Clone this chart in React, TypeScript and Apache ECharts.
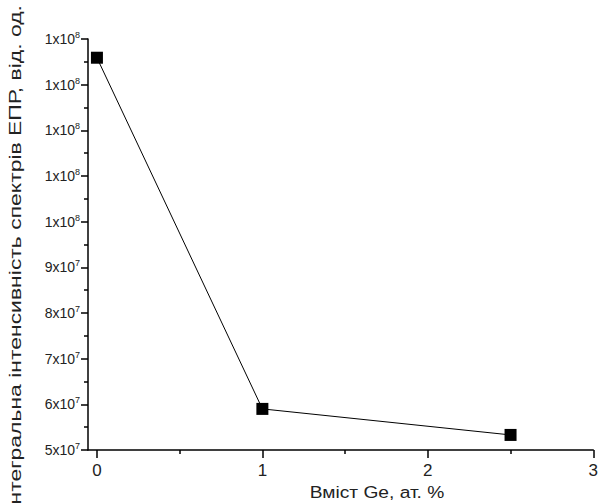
import React, { useEffect, useRef } from "react";
import * as echarts from "echarts";

const geContent = [0, 1, 2.5];
const eprIntensity = [1.359e8, 5.9e7, 5.33e7];
const xTickValues = [0, 1, 2, 3];
const xMinorTickValues = [0.5, 1.5, 2.5];
const yTickMantissa = ["5", "6", "7", "8", "9", "1", "1", "1", "1", "1"];
const yTickExponent = ["7", "7", "7", "7", "7", "8", "8", "8", "8", "8"];
const xAxisTitle = "Вміст Ge, ат. %";
const yAxisTitle = "Інтегральна інтенсивність спектрів ЕПР, від. од.";

const FONT = "'Liberation Sans', Arial, sans-serif";

export default function App() {
  const ref = useRef<HTMLDivElement>(null);
  useEffect(() => {
    document.body.style.margin = "0";
    const chart = echarts.init(ref.current!, null, { renderer: "svg" });
    const yMin = 5e7;
    const yStep = 1e7;
    chart.setOption({
      animation: false,
      backgroundColor: "#ffffff",
      grid: { left: 88, right: 3, top: 39, bottom: 54 },
      xAxis: [
        {
          type: "value",
          min: -0.054,
          max: 3,
          axisLine: { show: true, onZero: false, lineStyle: { color: "#000", width: 1.5 } },
          axisTick: {
            show: true,
            customValues: xTickValues,
            length: 8,
            lineStyle: { color: "#000", width: 1.5 },
          },
          axisLabel: {
            customValues: xTickValues,
            color: "#222",
            fontSize: 17,
            fontFamily: FONT,
            margin: 12,
            formatter: (v: number) => String(v),
          },
          splitLine: { show: false },
        },
        {
          type: "value",
          min: -0.054,
          max: 3,
          position: "bottom",
          axisLine: { show: false, onZero: false },
          axisTick: {
            show: true,
            customValues: xMinorTickValues,
            length: 4,
            lineStyle: { color: "#000", width: 1.5 },
          },
          axisLabel: { show: false },
          splitLine: { show: false },
        },
      ],
      yAxis: {
        type: "value",
        min: 5e7,
        max: 1.4e8,
        interval: 1e7,
        axisLine: { show: true, onZero: false, lineStyle: { color: "#000", width: 1.5 } },
        axisTick: { show: true, length: 7, lineStyle: { color: "#000", width: 1.5 } },
        minorTick: { show: true, splitNumber: 2, length: 4, lineStyle: { color: "#000", width: 1.5 } },
        splitLine: { show: false },
        axisLabel: {
          margin: 8,
          formatter: (v: number) => {
            const i = Math.round((v - yMin) / yStep);
            return `{m|${yTickMantissa[i]}x10}{e|${yTickExponent[i]}}`;
          },
          rich: {
            m: { fontSize: 14, color: "#222", fontFamily: FONT },
            e: { fontSize: 9, color: "#222", fontFamily: FONT, verticalAlign: "top", padding: [0, 0, 8, 0] },
          },
        },
      },
      graphic: [
        {
          type: "text",
          x: 15,
          y: 5,
          rotation: Math.PI / 2,
          scaleX: 1.35,
          style: {
            text: yAxisTitle,
            fontSize: 17,
            fontFamily: FONT,
            fill: "#222",
            textAlign: "right",
            textVerticalAlign: "middle",
          },
        },
        {
          type: "text",
          x: 377,
          y: 492,
          scaleX: 1.13,
          style: {
            text: xAxisTitle,
            fontSize: 17,
            fontFamily: FONT,
            fill: "#222",
            textAlign: "center",
            textVerticalAlign: "middle",
          },
        },
      ],
      series: [
        {
          type: "line",
          data: geContent.map((x, i) => [x, eprIntensity[i]]),
          symbol: "rect",
          symbolSize: 12,
          itemStyle: { color: "#000" },
          lineStyle: { color: "#000", width: 1 },
        },
      ],
    });
    return () => chart.dispose();
  }, []);
  return <div ref={ref} style={{ width: 601, height: 504 }} />;
}
